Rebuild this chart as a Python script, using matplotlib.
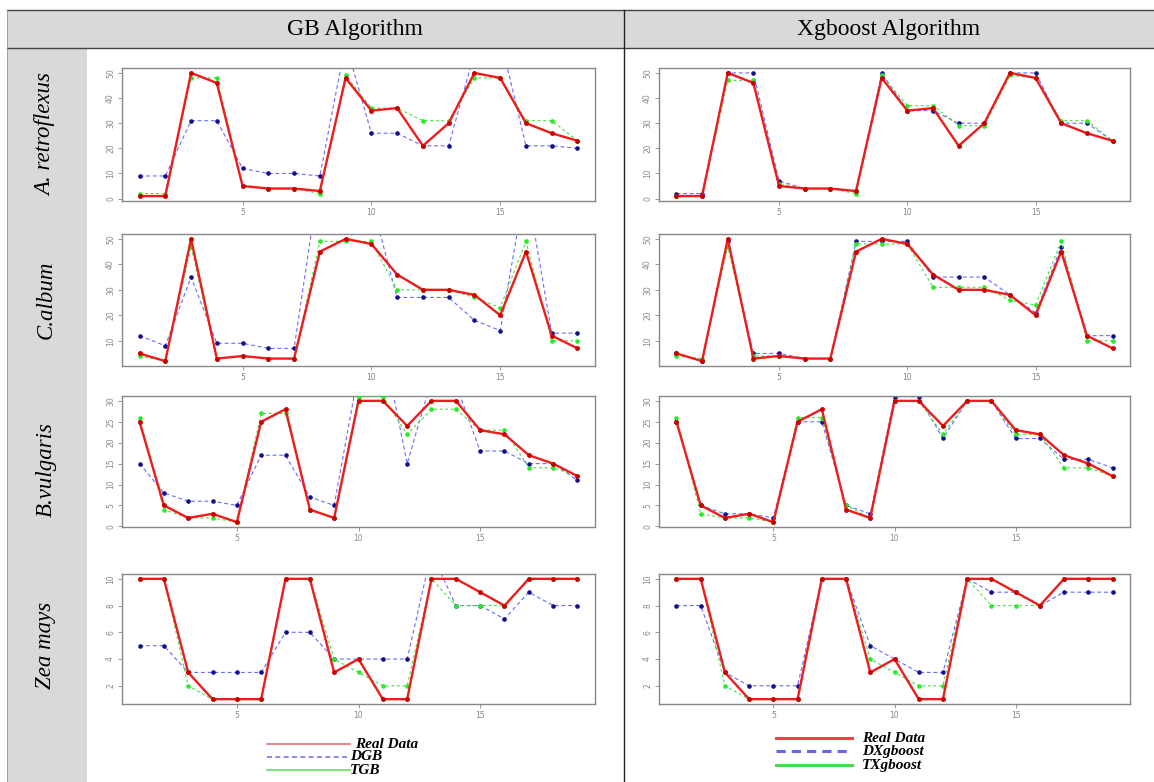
import matplotlib
matplotlib.use("Agg")
import matplotlib.pyplot as plt
from matplotlib.patches import Rectangle
from matplotlib.lines import Line2D

W, H = 1154, 782

species = ['A. retroflexus', 'C.album', 'B.vulgaris', 'Zea mays']
algorithms = ['GB Algorithm', 'Xgboost Algorithm']

# GB column
gb_real = [
    [1, 1, 50, 46, 5, 4, 4, 3, 48, 35, 36, 21, 30, 50, 48, 30, 26, 23],
    [5, 2, 50, 3, 4, 3, 3, 45, 50, 48, 36, 30, 30, 28, 20, 45, 12, 7],
    [25, 5, 2, 3, 1, 25, 28, 4, 2, 30, 30, 24, 30, 30, 23, 22, 17, 15, 12],
    [10, 10, 3, 1, 1, 1, 10, 10, 3, 4, 1, 1, 10, 10, 9, 8, 10, 10, 10],
]
gb_d = [
    [9, 9, 31, 31, 12, 10, 10, 9, 62, 26, 26, 21, 21, 58, 64, 21, 21, 20],
    [12, 8, 35, 9, 9, 7, 7, 75, 75, 65, 27, 27, 27, 18, 14, 72, 13, 13],
    [15, 8, 6, 6, 5, 17, 17, 7, 5, 37, 44, 15, 35, 34, 18, 18, 15, 15, 11],
    [5, 5, 3, 3, 3, 3, 6, 6, 4, 4, 4, 4, 12, 8, 8, 7, 9, 8, 8],
]
gb_t = [
    [2, 2, 48, 48, 5, 4, 4, 2, 49, 36, 36, 31, 31, 48, 48, 31, 31, 23],
    [4, 2, 47, 3, 4, 3, 3, 49, 49, 49, 30, 30, 30, 27, 23, 49, 10, 10],
    [26, 4, 2, 2, 1, 27, 27, 4, 2, 31, 31, 22, 28, 28, 23, 23, 14, 14, 12],
    [10, 10, 2, 1, 1, 1, 10, 10, 4, 3, 2, 2, 10, 8, 8, 8, 10, 10, 10],
]

# Xgboost column
xg_real = gb_real
xg_d = [
    [2, 2, 50, 50, 7, 4, 4, 3, 50, 35, 35, 30, 30, 50, 50, 30, 30, 23],
    [5, 2, 49, 5, 5, 3, 3, 49, 49, 49, 35, 35, 35, 28, 21, 47, 12, 12],
    [25, 5, 3, 3, 2, 25, 25, 5, 3, 31, 31, 21, 30, 30, 21, 21, 16, 16, 14],
    [8, 8, 3, 2, 2, 2, 10, 10, 5, 4, 3, 3, 10, 9, 9, 8, 9, 9, 9],
]
xg_t = [
    [1, 1, 47, 47, 6, 4, 4, 2, 49, 37, 37, 29, 29, 49, 48, 31, 31, 23],
    [4, 3, 47, 4, 4, 3, 3, 48, 48, 48, 31, 31, 31, 26, 24, 49, 10, 10],
    [26, 3, 2, 2, 1, 26, 26, 5, 2, 30, 30, 22, 30, 30, 22, 22, 14, 14, 12],
    [10, 10, 2, 1, 1, 1, 10, 10, 4, 3, 2, 2, 10, 8, 8, 8, 10, 10, 10],
]

legend_gb = ['Real Data', 'DGB', 'TGB']
legend_xg = ['Real Data', 'DXgboost', 'TXgboost']

RED, BLUE, GREEN = '#ee1c1c', '#6a6aff', '#44dd44'
GRAY = '#d9d9d9'

fig = plt.figure(figsize=(W / 100, H / 100), dpi=100)

# table background
bg = fig.add_axes([0, 0, 1, 1])
bg.set_xlim(0, W)
bg.set_ylim(H, 0)
bg.axis('off')
bg.add_patch(Rectangle((7, 10), W - 7, 38, color=GRAY, lw=0))
bg.add_patch(Rectangle((7, 48), 80, H - 48, color=GRAY, lw=0))
bg.plot([7, W], [10, 10], color='#444444', lw=1)
bg.plot([7, W], [48, 48], color='#444444', lw=1)
bg.plot([624, 624], [10, H], color='#222222', lw=1)
bg.plot([7, 7], [10, H], color='#999999', lw=0.6)

serif = ['Liberation Serif', 'DejaVu Serif']
bg.text(355, 29, algorithms[0], ha='center', va='center', fontsize=17, family=serif)
bg.text(889, 29, algorithms[1], ha='center', va='center', fontsize=17, family=serif)

label_y = [135, 300, 470, 645]
for name, yc in zip(species, label_y):
    bg.text(46, yc, name, rotation=90, ha='center', va='center', fontsize=16.5,
            style='italic', family=serif)

rows = [(68, 201), (234, 366), (396, 527), (574, 704)]
cols = [(122, 595), (659, 1130)]


def draw_panel(ax, real, d, t):
    n = len(real)
    x = list(range(1, n + 1))
    lo, hi = min(real), max(real)
    pad = (hi - lo) * 0.04
    ax.plot(x, d, color=BLUE, lw=0.8, ls=(0, (3.5, 2.5)), marker='o', ms=2.3,
            mfc='#10108a', mec='#10108a', zorder=2)
    ax.plot(x, t, color=GREEN, lw=0.8, ls=(0, (2.5, 2.5)), marker='o', ms=2.3,
            mfc='#22ee22', mec='#22ee22', zorder=3)
    ax.plot(x, real, color=RED, lw=1.7, marker='o', ms=2.5,
            mfc='#cc0000', mec='#cc0000', zorder=4)
    ax.set_xlim(1 - 0.04 * (n - 1), n + 0.04 * (n - 1))
    ax.set_ylim(lo - pad, hi + pad)
    ax.set_xticks([5, 10, 15])
    for s in ax.spines.values():
        s.set_color('#888888')
        s.set_linewidth(1.0)
    ax.tick_params(colors='#888888', labelsize=5.5, length=3, width=0.6, pad=2)
    ax.tick_params(axis='y', labelrotation=90)
    for lab in ax.get_yticklabels():
        lab.set_va('center')


for r, (top, bot) in enumerate(rows):
    for c, (left, right) in enumerate(cols):
        ax = fig.add_axes([left / W, 1 - bot / H, (right - left) / W, (bot - top) / H])
        if c == 0:
            draw_panel(ax, gb_real[r], gb_d[r], gb_t[r])
        else:
            draw_panel(ax, xg_real[r], xg_d[r], xg_t[r])

# legends
leg_font = dict(fontsize=11, style='italic', weight='bold', family=serif, va='center')
gy = [744, 757, 770]
styles = [dict(color='#f07070', lw=1.2), dict(color='#7777ee', lw=1.2, ls=(0, (3, 2))),
          dict(color='#66dd66', lw=1.2)]
for lab, yy, st in zip(legend_gb, gy, styles):
    bg.add_line(Line2D([267, 350], [yy, yy], **st))
    bg.text(355 if lab == 'Real Data' else 350, yy, lab, **leg_font)

xy = [738, 751, 765]
styles2 = [dict(color='#ee4444', lw=2.2), dict(color='#6666ee', lw=2.2, ls=(0, (3, 2))),
           dict(color='#44dd44', lw=2.2)]
for lab, yy, st in zip(legend_xg, xy, styles2):
    bg.add_line(Line2D([776, 852], [yy, yy], **st))
    bg.text(862, yy, lab, **leg_font)

fig.savefig('out.png', dpi=100)
